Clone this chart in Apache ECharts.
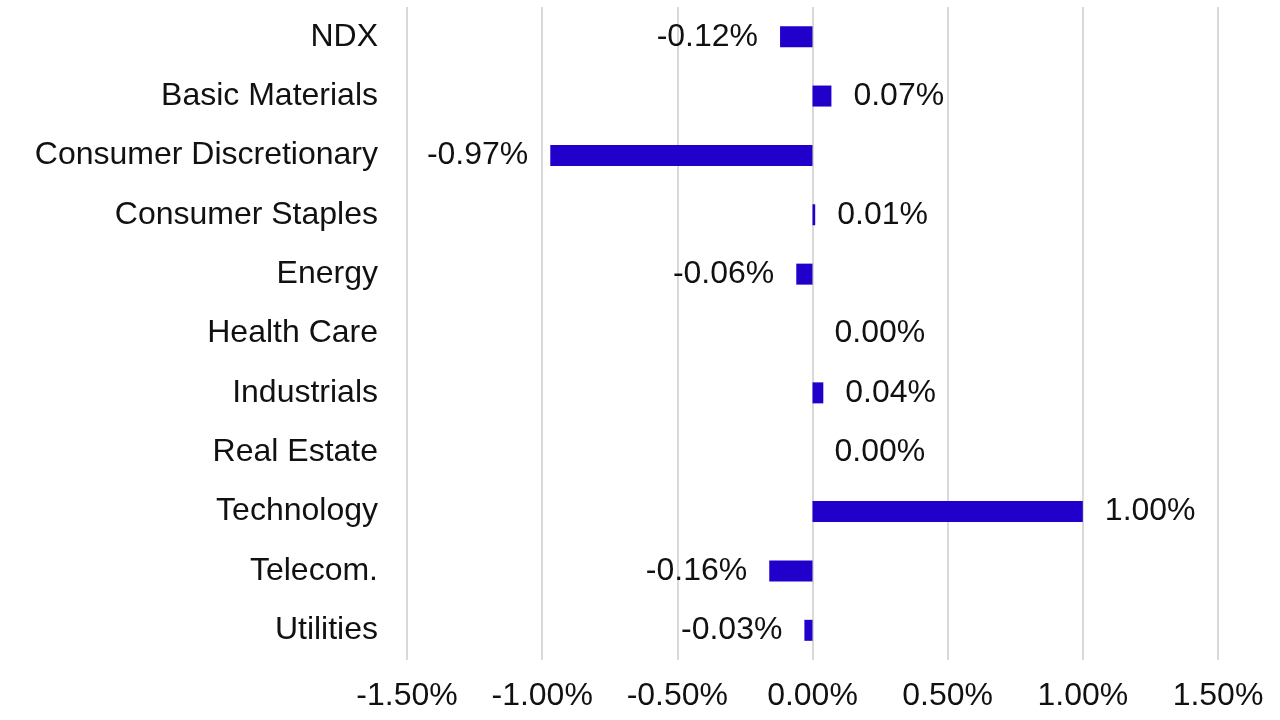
<!DOCTYPE html>
<html>
<head>
<meta charset="utf-8">
<script src="https://cdn.jsdelivr.net/npm/echarts@6/dist/echarts.min.js"></script>
<style>
  html, body { margin: 0; padding: 0; background: #fff; }
  #chart { width: 1280px; height: 720px; }
</style>
</head>
<body>
<div id="chart"></div>
<script>
const categories = ['NDX', 'Basic Materials', 'Consumer Discretionary', 'Consumer Staples', 'Energy',
  'Health Care', 'Industrials', 'Real Estate', 'Technology', 'Telecom.', 'Utilities'];
const values = [-0.12, 0.07, -0.97, 0.01, -0.06, 0.00, 0.04, 0.00, 1.00, -0.16, -0.03];
const axisMin = -1.5, axisMax = 1.5, axisStep = 0.5;

const font = "'Liberation Sans', Arial, sans-serif";
const fs = 32;
const pct = v => v.toFixed(2) + '%';

const chart = echarts.init(document.getElementById('chart'), null, { renderer: 'canvas' });
chart.setOption({
  animation: false,
  grid: { left: 407, right: 62, top: 7, bottom: 60 },
  xAxis: {
    type: 'value', min: axisMin, max: axisMax, interval: axisStep,
    axisLine: { show: false }, axisTick: { show: false },
    splitLine: { lineStyle: { color: '#d9d9d9', width: 2 } },
    axisLabel: { formatter: pct, color: '#111', fontSize: fs, fontFamily: font, margin: 20 }
  },
  yAxis: {
    type: 'category', data: categories, inverse: true,
    axisLine: { show: false }, axisTick: { show: false },
    axisLabel: { color: '#111', fontSize: fs, fontFamily: font, margin: 29, padding: [4, 0, 0, 0] }
  },
  series: [{
    type: 'bar', barWidth: 21,
    itemStyle: { color: '#2200cc' },
    data: values.map(v => ({
      value: v,
      label: { position: v < 0 ? 'left' : 'right' }
    })),
    label: {
      show: true, distance: 22, color: '#111', fontSize: fs, fontFamily: font,
      padding: [4, 0, 0, 0],
      formatter: p => pct(p.value)
    }
  }]
});
</script>
</body>
</html>
